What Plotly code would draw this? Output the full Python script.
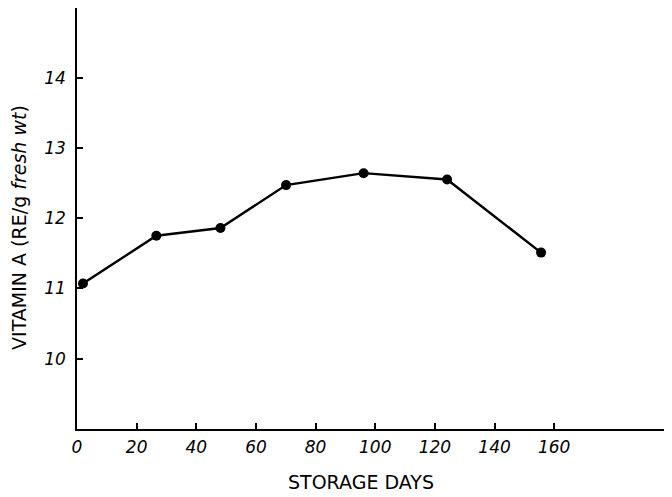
import plotly.graph_objects as go

storage_days = [2, 26.6, 48.1, 70.1, 96.1, 124.1, 155.6]
vitamin_a = [11.07, 11.75, 11.86, 12.47, 12.64, 12.55, 11.51]

x_ticks = [0, 20, 40, 60, 80, 100, 120, 140, 160]
y_ticks = [10, 11, 12, 13, 14]

fig = go.Figure()
fig.add_trace(go.Scatter(
    x=storage_days, y=vitamin_a, mode="lines+markers",
    line=dict(color="black", width=2.4),
    marker=dict(color="black", size=10),
    showlegend=False,
))

tick_font = dict(family="DejaVu Sans", size=17, color="black", style="italic")
title_font = dict(family="DejaVu Sans", size=19, color="black")

# page body has an 8px margin, so the figure is sized to fill the rest of the window
fig.update_layout(
    width=664, height=489,
    margin=dict(l=69, r=0, t=0, b=68),
    paper_bgcolor="white", plot_bgcolor="white",
    xaxis=dict(
        range=[0, 199.5], tickvals=x_ticks, ticktext=[str(v) for v in x_ticks],
        ticks="inside", ticklen=6, tickwidth=1.5, tickcolor="black",
        showline=True, linecolor="black", linewidth=1.6, showgrid=False, zeroline=False,
        tickfont=tick_font, automargin=False, ticklabelstandoff=2,
    ),
    yaxis=dict(
        range=[9, 14.99], tickvals=y_ticks, ticktext=[str(v) for v in y_ticks],
        ticks="inside", ticklen=6, tickwidth=1.5, tickcolor="black",
        showline=True, linecolor="black", linewidth=1.6, showgrid=False, zeroline=False,
        tickfont=tick_font, automargin=False, ticklabelstandoff=6,
    ),
    annotations=[
        dict(
            text="STORAGE DAYS", font=title_font, showarrow=False,
            xref="paper", yref="paper", x=0.477, y=-0.125, xanchor="center", yanchor="middle",
        ),
        dict(
            text="VITAMIN A (RE/g <i>fresh wt</i>)", font=title_font, showarrow=False,
            textangle=-90, xref="paper", yref="paper", x=-0.0975, y=0.48,
            xanchor="center", yanchor="middle",
        ),
    ],
)

fig.write_html("out.html")
